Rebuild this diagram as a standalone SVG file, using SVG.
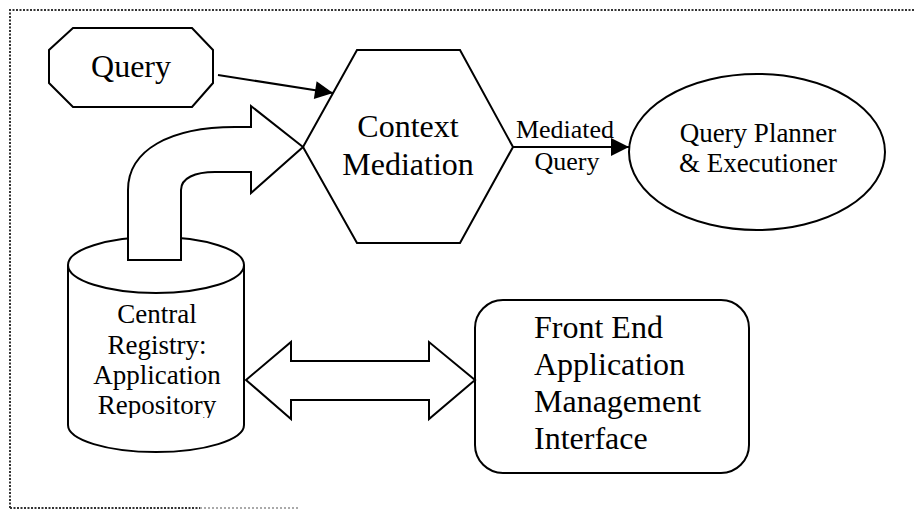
<svg xmlns="http://www.w3.org/2000/svg" width="916" height="510" viewBox="0 0 916 510">
<defs>
<style>
.shape{fill:#fff;stroke:#000;stroke-width:2;stroke-linejoin:miter}
.line{fill:none;stroke:#000;stroke-width:2}
text{fill:#000}
.c{text-anchor:middle}
.frame{fill:none;stroke:#333;stroke-width:2;stroke-dasharray:2 1.5}
</style>
<marker id="ah" viewBox="0 0 10 10" refX="10" refY="5" markerWidth="11" markerHeight="9" markerUnits="strokeWidth" orient="auto">
<path d="M0,0 L10,5 L0,10 Z" fill="#000"/>
</marker>
<clipPath id="cylclip"><rect x="60" y="290" width="200" height="128"/></clipPath>
</defs>
<rect width="916" height="510" fill="#fff"/>
<g id="frame">
<path class="frame" d="M10,508 L10,10 L915,10"/>
<path class="frame" d="M10,508 L200,508"/>
<path d="M200,508 L300,508" fill="none" stroke="#aaa" stroke-width="2" stroke-dasharray="2 2"/>
</g>
<g font-family="'Liberation Serif', 'DejaVu Serif', serif">
<g id="central-registry">
<path class="shape" d="M68,265 A88,28 0 0 1 244,265 L244,425 A88,27 0 0 1 68,425 Z"/>
<path class="line" d="M68,265 A88,28 0 0 0 244,265"/>
<g clip-path="url(#cylclip)">
<text class="c" font-size="27" x="157" y="323">Central</text>
<text class="c" font-size="27" x="157" y="354">Registry:</text>
<text class="c" font-size="27" x="157" y="384">Application</text>
<text class="c" font-size="27" x="157" y="414">Repository</text>
</g>
</g>
<g id="query">
<polygon class="shape" points="73,28 192,28 213,50 213,83 192,107 73,107 49,83 49,50"/>
<text class="c" font-size="32" x="131" y="77">Query</text>
</g>
<g id="context-mediation">
<polygon class="shape" points="357,50 460,50 513,147 460,243 357,243 303,147"/>
<text class="c" font-size="32" x="408" y="137">Context</text>
<text class="c" font-size="32" x="408" y="175">Mediation</text>
</g>
<g id="query-planner">
<ellipse class="shape" cx="757" cy="152" rx="128" ry="78"/>
<text class="c" font-size="27" x="758" y="142">Query Planner</text>
<text class="c" font-size="27" x="758" y="172">&amp; Executioner</text>
</g>
<g id="front-end">
<rect class="shape" x="475" y="300" width="274" height="173" rx="28" ry="28"/>
<text font-size="32" x="534" y="338">Front End</text>
<text font-size="32" x="534" y="375">Application</text>
<text font-size="32" x="534" y="412">Management</text>
<text font-size="32" x="534" y="449">Interface</text>
</g>
<g id="connectors">
<line class="line" x1="218" y1="75" x2="333" y2="93" marker-end="url(#ah)"/>
<line class="line" x1="513" y1="147" x2="629" y2="147" marker-end="url(#ah)"/>
<text class="c" font-size="26" x="565" y="138">Mediated</text>
<text class="c" font-size="26" x="567" y="170">Query</text>
<path class="shape" d="M128,260 L128,190 C128,150 170,127 235,127 L251,127 L251,106 L303,147 L251,193 L251,172 L215,172 C195,172 181,178 181,190 L181,260 Z"/>
<polygon class="shape" points="246,380 291,342 291,361 429,361 429,342 475,380 429,419 429,400 291,400 291,419"/>
</g>
</g>
</svg>
